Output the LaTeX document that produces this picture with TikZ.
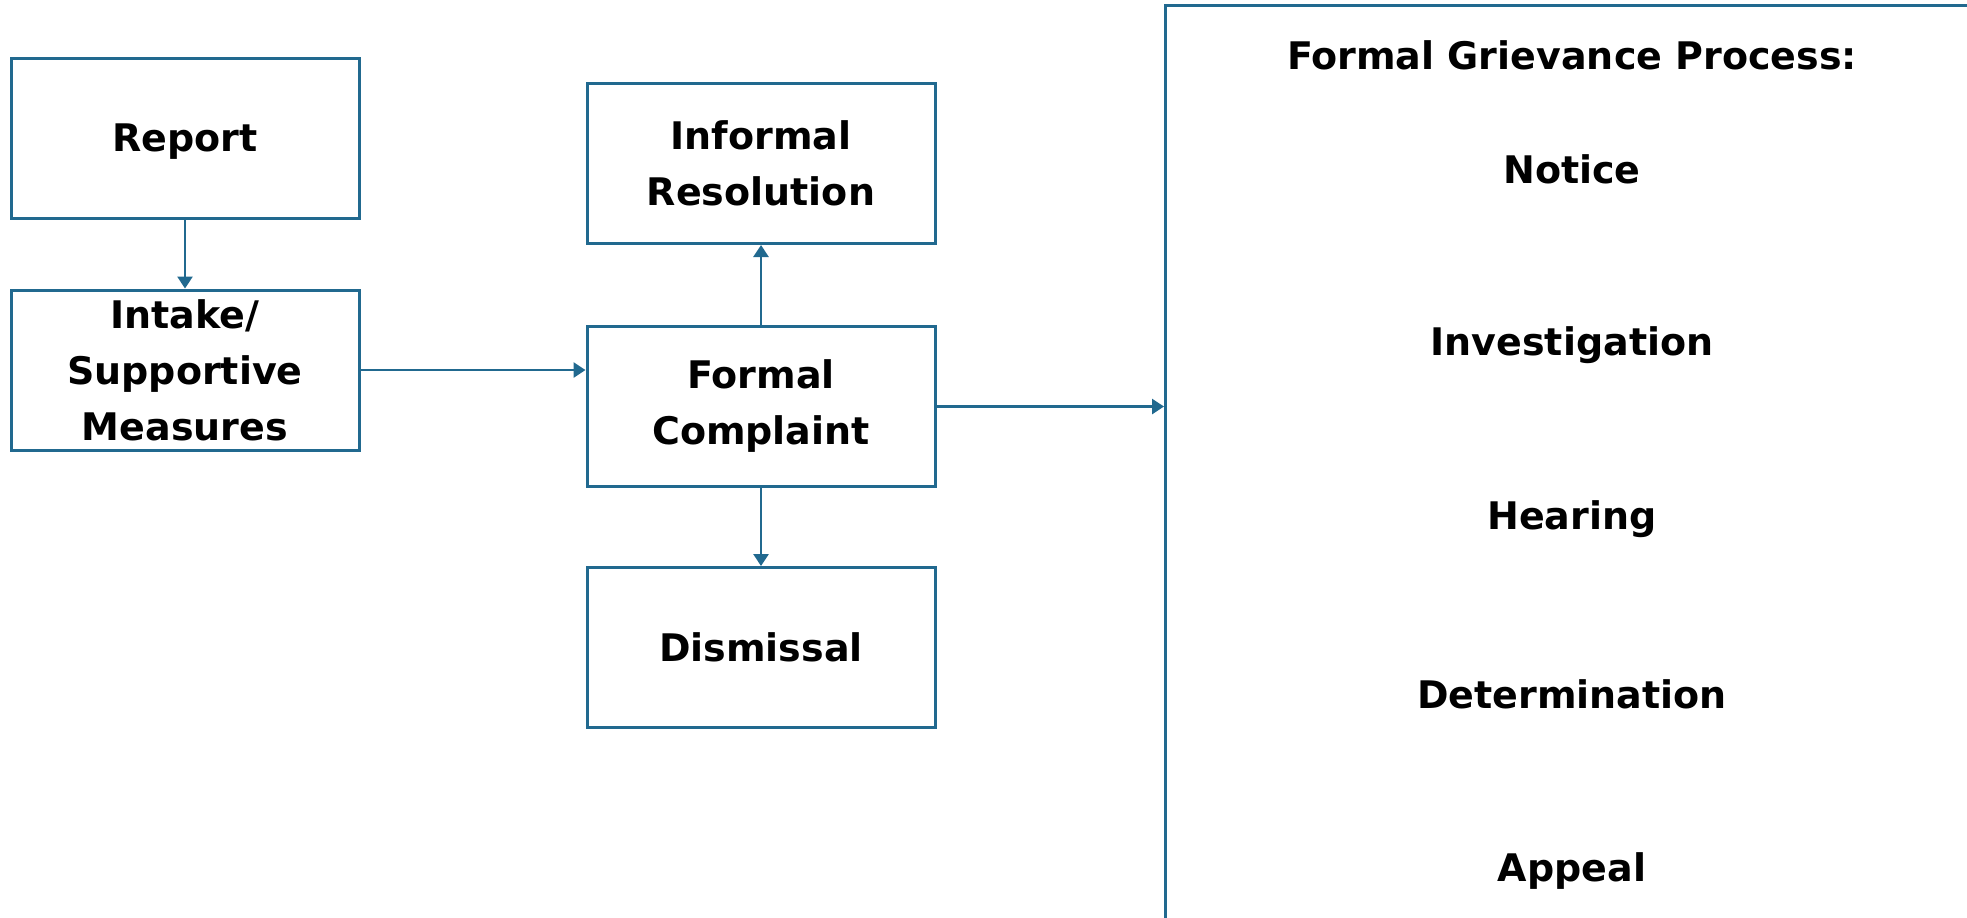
\documentclass[tikz,border=0pt]{standalone}
\usepackage{fontspec}
\setmainfont{DejaVu Sans}
\usetikzlibrary{arrows.meta}
\definecolor{edge}{HTML}{21698F}
\tikzset{
  box/.style={draw=edge, line width=1.5pt, rectangle, minimum width=174pt, minimum height=80pt, inner sep=0pt, align=center, font=\bfseries\fontsize{19pt}{28pt}\selectfont},
  lbl/.style={inner sep=0pt, align=center, font=\bfseries\fontsize{19pt}{28pt}\selectfont},
  conn/.style={draw=edge, line width=1.4pt, -{Triangle[width=7.5pt,length=6pt]}}
}
\begin{document}
\begin{tikzpicture}[x=0.5pt,y=-0.5pt]
\useasboundingbox (0,0) rectangle (1967,917);
\clip (0,0) rectangle (1967,917);
\node[box, text depth=0pt] (report) at (185,138) {Report};
\node[box] (intake) at (185,370) {Intake/\\Supportive\\Measures};
\node[box] (informal) at (761,163.5) {Informal\\Resolution};
\node[box] (fc) at (761,406.5) {Formal\\Complaint};
\node[box] (dismissal) at (761,647.5) {Dismissal};
\node[draw=edge, line width=1.5pt, rectangle, minimum width=418pt, minimum height=473pt, inner sep=0pt, anchor=north west] (gp) at (1164,4) {};
\node[lbl] (title) at (1572,55) {Formal Grievance Process:};
\node[lbl] (notice) at (1572,169) {Notice};
\node[lbl] (invest) at (1572,345) {Investigation};
\node[lbl] (hearing) at (1572,519) {Hearing};
\node[lbl] (determ) at (1572,694) {Determination};
\node[lbl] (appeal) at (1572,871) {Appeal};
\draw[conn] (report) -- (intake);
\draw[conn] (intake.east) -- (intake.east -| fc.west);
\draw[conn] (fc) -- (informal);
\draw[conn] (fc) -- (dismissal);
\draw[conn] (fc.east) -- (fc.east -| gp.west);
\end{tikzpicture}
\end{document}
